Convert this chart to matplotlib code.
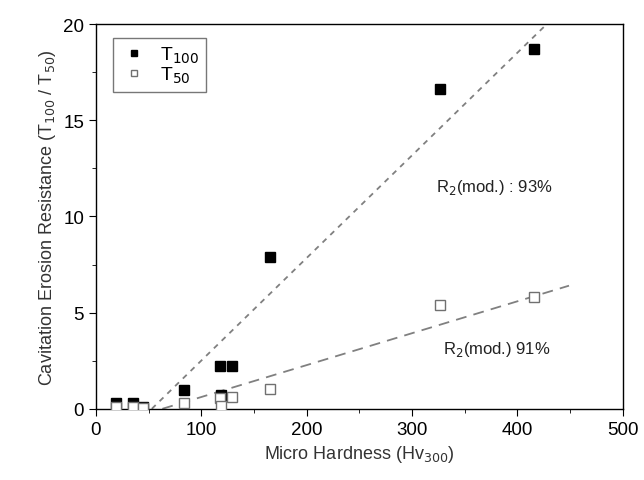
import matplotlib.pyplot as plt
from matplotlib.ticker import MultipleLocator

plt.rcParams['font.family'] = ['Liberation Sans', 'DejaVu Sans']

# data
hardness = [19, 35, 45, 84, 118, 119, 129, 165, 327, 416]
t100 = [0.3, 0.3, 0.1, 1.0, 2.2, 0.7, 2.2, 7.9, 16.6, 18.7]
t50 = [0.1, 0.1, 0.05, 0.3, 0.55, 0.15, 0.6, 1.05, 5.4, 5.8]

# modelled fit lines (end points)
fit100_x = [53, 428]
fit100_y = [0, 20]
fit50_x = [63, 449]
fit50_y = [0, 6.4]

fig = plt.figure(figsize=(6.44, 4.81), dpi=100)
ax = fig.add_axes([0.149, 0.148, 0.818, 0.8])

ax.plot(fit100_x, fit100_y, color='#808080', linestyle=(0, (3, 3)), linewidth=1.3)
ax.plot(fit50_x, fit50_y, color='#808080', linestyle=(0, (6, 4)), linewidth=1.3)

ax.plot(hardness, t100, linestyle='none', marker='s', markersize=7.5,
        color='black', label='T$_{100}$', zorder=3)
ax.plot(hardness, t50, linestyle='none', marker='s', markersize=7,
        markerfacecolor='white', markeredgecolor='#707070', markeredgewidth=1.0,
        label='T$_{50}$', zorder=4)

ax.text(323, 11.3, 'R$_2$(mod.) : 93%', fontsize=12, color='#222222')
ax.text(329, 2.9, 'R$_2$(mod.) 91%', fontsize=12, color='#222222')

ax.set_xlim(0, 500)
ax.set_ylim(0, 20)
ax.xaxis.set_major_locator(MultipleLocator(100))
ax.xaxis.set_minor_locator(MultipleLocator(50))
ax.yaxis.set_major_locator(MultipleLocator(5))
ax.yaxis.set_minor_locator(MultipleLocator(2.5))
ax.tick_params(which='major', length=5, labelsize=13.5)
ax.tick_params(which='minor', length=3)
for s in ax.spines.values():
    s.set_linewidth(1.0)

ax.set_xlabel('Micro Hardness (Hv$_{300}$)', fontsize=13, color='#333333')
ax.set_ylabel('Cavitation Erosion Resistance (T$_{100}$ / T$_{50}$)', fontsize=13, color='#333333')

ax.legend(loc='upper left', bbox_to_anchor=(0.032, 0.964), borderaxespad=0,
          fontsize=14, frameon=True, fancybox=False, edgecolor='#555555',
          handlelength=1.5, borderpad=0.35, labelspacing=0.0, markerscale=0.65,
          handletextpad=0.6)

plt.savefig('out.png', dpi=100)
